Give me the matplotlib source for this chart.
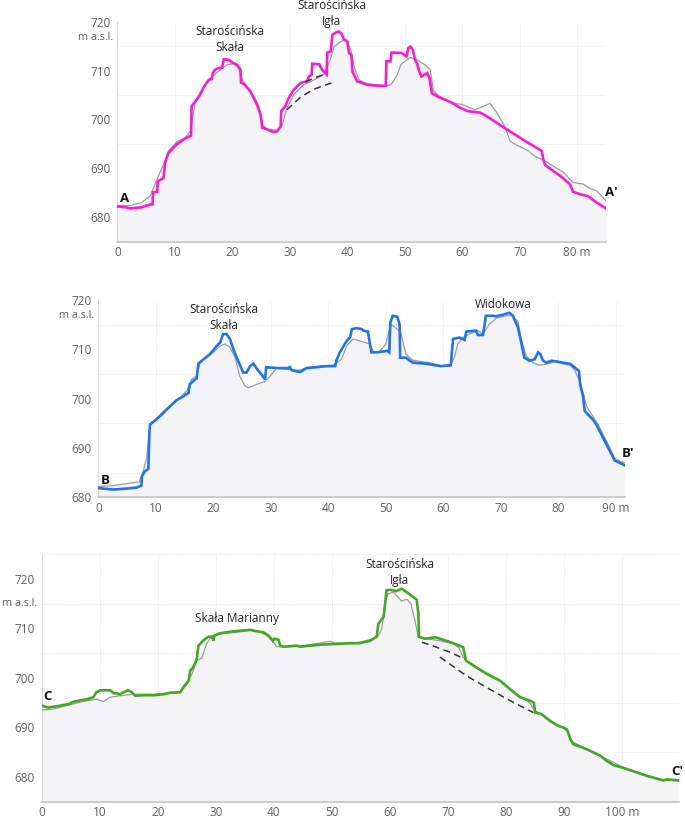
import matplotlib
matplotlib.use("Agg")
import matplotlib.pyplot as plt
import matplotlib.transforms as mtransforms
import numpy as np

plt.rcParams["font.family"] = ["Open Sans", "DejaVu Sans"]

# ---- profile A-A' (distance m, elevation m a.s.l.) ----
a_scan = [(0, 682.2), (1.6, 682.0), (2.2, 681.8), (4, 682.0), (5.7, 682.6), (6.1, 682.7), (6.2, 685.1),
          (6.9, 685.2), (7.0, 687.3), (8.0, 688.0), (8.3, 691.2), (8.9, 693.2), (10.3, 694.9), (11.5, 695.9),
          (12.8, 696.7), (12.9, 702.7), (13.8, 704.1), (14.4, 705.1), (15.0, 706.6), (15.9, 708.1),
          (16.4, 708.3), (16.6, 709.5), (17.0, 710.2), (17.6, 710.5), (18.2, 710.6), (18.5, 712.3),
          (19.4, 712.2), (19.9, 711.7), (20.8, 711.2), (21.4, 710.2), (21.5, 707.5), (22.0, 707.3),
          (23.1, 705.8), (24.3, 703.0), (24.9, 701.0), (25.2, 698.3), (26.0, 698.0), (27.2, 697.4),
          (27.8, 697.6), (28.4, 698.6), (28.5, 701.7), (29.2, 702.7), (29.8, 704.4), (30.7, 706.1),
          (31.9, 707.5), (33.0, 707.8), (33.3, 708.8), (33.8, 709.2), (33.9, 711.4), (35.1, 711.3),
          (35.6, 710.2), (36.4, 709.2), (36.5, 713.7), (37.1, 713.9), (37.4, 717.3), (38.0, 717.8),
          (38.5, 718.0), (38.95, 717.6), (39.4, 716.4), (40.0, 715.9), (40.3, 713.6), (40.7, 713.2),
          (40.9, 709.8), (41.7, 707.8), (43.5, 707.1), (45.2, 706.9), (46.7, 706.9), (46.8, 711.9),
          (47.5, 711.9), (47.7, 713.7), (49.4, 713.6), (50.3, 712.9), (50.6, 714.6), (51.0, 714.9),
          (51.4, 714.2), (51.8, 712.2), (52.2, 711.2), (52.5, 709.8), (52.9, 708.8), (53.5, 709.2),
          (53.9, 709.5), (54.3, 708.5), (54.7, 705.4), (55.8, 704.6), (57.3, 703.9), (58.4, 703.3),
          (59.6, 702.4), (61.0, 701.7), (63.1, 701.4), (64.2, 700.7), (67.7, 698.0), (71.2, 695.4),
          (73.8, 693.6), (74.1, 691.9), (74.4, 690.7), (75.8, 689.5), (77.0, 688.5), (78.7, 686.8),
          (79.3, 685.2), (80.5, 684.7), (81.9, 684.3), (83.4, 683.0), (85.0, 681.8)]
a_terrain = [(0, 682.4), (2.2, 682.4), (4.2, 683.0), (5.7, 684.4), (6.9, 687.8), (8.0, 690.8), (8.9, 693.6),
             (10.3, 695.4), (11.8, 696.3), (12.7, 697.6), (13.5, 703.4), (14.4, 705.4), (15.6, 707.8),
             (16.7, 709.0), (17.9, 710.2), (19.1, 711.2), (20.2, 711.4), (21.1, 710.5), (21.7, 708.1),
             (22.6, 706.6), (23.7, 704.7), (24.6, 702.7), (25.2, 699.0), (26.0, 698.0), (27.8, 697.8),
             (28.7, 699.0), (29.5, 702.4), (30.7, 705.1), (32.4, 707.1), (34.2, 708.1), (35.9, 709.2),
             (37.1, 712.5), (37.7, 714.9), (38.8, 715.9), (39.7, 716.4), (40.6, 714.2), (41.2, 710.8),
             (42.0, 708.1), (43.5, 707.3), (46.4, 706.9), (47.6, 707.1), (48.7, 709.2), (49.3, 711.2),
             (50.9, 712.7), (52.1, 712.2), (53.5, 711.2), (54.4, 710.2), (55.0, 705.8), (56.1, 704.7),
             (58.4, 703.3), (59.9, 703.1), (62.2, 702.0), (63.7, 702.7), (64.8, 703.3), (66.0, 701.4),
             (67.4, 698.6), (68.3, 695.6), (69.4, 694.8), (71.5, 693.6), (72.6, 692.5), (74.1, 691.7),
             (75.8, 690.5), (77.6, 689.2), (79.3, 687.1), (81.0, 686.8), (82.2, 685.9), (83.4, 685.4),
             (85.0, 683.4)]
a_dash_upper = [(32.7, 707.7), (34.5, 708.6), (36.4, 709.4)]
a_dash_lower = [(29.5, 702.0), (31.9, 704.6), (34.2, 706.2), (37.3, 707.5)]

# ---- profile B-B' ----
b_scan = [(0, 681.9), (2.6, 681.6), (4.9, 681.8), (6.7, 682.0), (7.5, 682.4), (7.6, 684.3), (8.1, 685.3),
          (8.7, 685.8), (8.9, 693.4), (9.0, 694.8), (10.1, 695.8), (11.3, 697.2), (12.5, 698.5),
          (13.6, 699.7), (14.8, 700.5), (15.7, 701.2), (15.9, 702.9), (16.8, 703.9), (17.1, 704.1),
          (17.4, 707.1), (18.3, 708.0), (19.4, 709.0), (20.6, 710.7), (21.2, 711.4), (21.7, 713.1),
          (22.3, 713.1), (22.9, 712.1), (23.5, 710.0), (24.3, 707.7), (25.2, 705.3), (25.8, 705.3),
          (26.4, 706.6), (27.0, 707.1), (27.5, 706.2), (28.1, 705.3), (28.6, 704.6), (29.0, 703.9),
          (29.2, 706.4), (29.9, 706.3), (31.6, 706.2), (33.0, 706.2), (33.3, 706.4), (33.6, 705.8),
          (35.1, 705.4), (36.2, 706.2), (38.0, 706.4), (39.7, 706.6), (41.2, 706.6), (41.4, 707.7),
          (42.0, 709.4), (43.2, 711.7), (43.8, 712.5), (44.1, 714.1), (44.9, 714.3), (45.8, 714.1),
          (46.1, 713.8), (46.9, 713.6), (47.2, 711.4), (47.5, 709.4), (48.5, 709.4), (50.3, 709.7),
          (50.6, 709.4), (50.8, 715.5), (51.2, 716.8), (52.0, 716.6), (52.4, 715.1), (52.5, 708.3),
          (53.5, 708.3), (54.7, 707.3), (57.0, 707.1), (59.6, 706.6), (61.3, 706.8), (61.7, 712.1),
          (62.8, 712.4), (63.7, 711.9), (64.0, 713.6), (65.7, 713.8), (66.0, 712.9), (66.9, 712.9),
          (67.2, 715.1), (67.4, 716.8), (68.6, 716.8), (69.2, 716.7), (70.3, 717.0), (71.5, 717.4),
          (72.1, 716.8), (73.0, 714.4), (73.5, 711.7), (74.1, 708.3), (75.0, 707.7), (75.9, 708.0),
          (76.5, 709.4), (76.9, 709.0), (77.3, 707.8), (77.9, 707.3), (78.8, 707.7), (79.9, 707.5),
          (80.8, 707.3), (82.0, 707.1), (82.6, 706.6), (83.6, 705.6), (83.8, 702.9), (84.3, 700.5),
          (84.6, 697.5), (86.0, 695.8), (86.6, 694.8), (88.4, 690.7), (89.8, 687.5), (90.7, 687.0),
          (91.6, 686.5)]
b_terrain = [(0, 682.2), (2.6, 682.4), (6.7, 683.1), (7.1, 683.1), (7.8, 685.3), (8.4, 688.0), (9.0, 694.8),
             (9.9, 695.5), (11.3, 696.8), (12.5, 698.5), (14.2, 700.2), (15.4, 701.6), (16.2, 703.9),
             (17.1, 704.6), (17.7, 707.3), (18.6, 708.3), (20.0, 709.4), (21.2, 710.7), (22.0, 711.1),
             (22.9, 710.4), (23.8, 708.3), (24.6, 704.6), (25.5, 702.6), (26.1, 702.2), (27.5, 702.9),
             (29.0, 703.5), (29.9, 704.6), (31.0, 706.2), (33.9, 705.8), (35.1, 705.8), (36.2, 706.3),
             (38.6, 706.6), (40.9, 706.8), (42.3, 708.0), (43.2, 710.7), (44.3, 712.1), (45.5, 711.7),
             (47.2, 711.1), (47.8, 709.6), (48.8, 709.4), (50.0, 711.1), (50.9, 715.1), (51.7, 714.4),
             (52.6, 713.4), (53.5, 709.0), (54.7, 707.8), (57.6, 707.3), (59.9, 706.6), (61.2, 706.6),
             (61.9, 708.3), (62.5, 711.0), (63.4, 712.4), (64.5, 713.1), (66.0, 713.8), (66.9, 713.1),
             (68.0, 715.1), (69.2, 716.3), (70.9, 716.8), (72.1, 716.8), (73.0, 715.5), (73.5, 712.4),
             (74.4, 708.7), (75.6, 707.3), (76.7, 706.8), (77.9, 707.0), (78.8, 707.3), (79.7, 707.7),
             (80.8, 707.1), (82.0, 706.8), (82.8, 705.9), (83.7, 703.6), (84.4, 700.9), (84.9, 698.5),
             (86.0, 696.5), (86.9, 694.8), (88.7, 690.7), (89.8, 688.0), (90.7, 687.3), (91.6, 687.0)]

# ---- profile C-C' ----
c_scan = [(0, 694.4), (1.1, 694.0), (3.2, 694.4), (4.6, 694.7), (5.5, 695.2), (7.8, 695.7), (8.9, 696.1),
          (9.4, 697.1), (10.1, 697.5), (11.8, 697.5), (12.4, 696.9), (12.9, 696.9), (13.5, 696.7),
          (14.1, 697.1), (14.9, 697.5), (15.5, 697.1), (16.1, 696.4), (17.5, 696.5), (19.3, 696.5),
          (21.0, 696.7), (22.1, 697.0), (23.9, 697.1), (24.4, 698.1), (25.3, 699.4), (25.6, 701.5),
          (26.1, 702.1), (26.7, 703.8), (27.0, 706.5), (27.8, 707.5), (28.7, 708.3), (29.3, 708.3),
          (29.6, 707.5), (29.7, 708.5), (30.7, 709.0), (33.0, 709.4), (35.9, 709.7), (37.1, 709.4),
          (38.2, 709.2), (39.1, 708.5), (39.8, 707.5), (40.1, 707.9), (40.8, 707.7), (41.1, 706.5),
          (41.7, 706.3), (44.0, 706.5), (44.5, 706.3), (48.0, 706.7), (53.2, 707.0), (54.8, 707.0),
          (56.6, 707.5), (57.7, 708.3), (58.0, 710.9), (58.9, 712.3), (59.1, 714.3), (59.4, 717.7),
          (60.0, 717.8), (61.1, 717.5), (62.0, 718.0), (62.9, 717.3), (63.7, 716.6), (64.6, 715.8),
          (64.9, 712.9), (65.0, 708.3), (66.0, 707.9), (67.8, 708.2), (69.2, 707.7), (70.9, 707.0),
          (72.6, 706.2), (73.1, 703.5), (74.9, 702.1), (76.7, 700.8), (79.0, 699.4), (80.7, 697.7),
          (82.4, 696.1), (84.1, 695.4), (84.8, 695.0), (85.0, 693.0), (86.1, 692.7), (87.6, 691.3),
          (89.0, 690.3), (89.9, 690.0), (90.5, 689.6), (91.1, 687.6), (91.6, 686.6), (93.9, 685.6),
          (96.2, 684.3), (97.4, 683.2), (98.5, 682.4), (100.8, 681.6), (104.3, 680.2), (107.1, 679.3),
          (107.7, 679.5), (109.8, 679.3)]
c_terrain = [(0, 693.5), (2.0, 693.7), (4.9, 694.6), (7.8, 695.4), (9.5, 695.7), (10.6, 695.2), (11.8, 696.1),
             (13.5, 696.4), (15.8, 696.7), (19.3, 696.7), (23.9, 697.1), (25.0, 698.8), (25.9, 700.8),
             (26.7, 703.5), (27.6, 704.0), (28.4, 706.9), (29.3, 708.5), (30.7, 708.9), (33.6, 709.2),
             (35.9, 709.6), (37.6, 709.4), (39.1, 708.3), (39.9, 707.2), (40.5, 706.3), (42.2, 706.3),
             (45.1, 706.5), (49.7, 707.4), (50.6, 707.0), (53.2, 707.0), (54.8, 707.2), (57.1, 707.9),
             (58.0, 708.5), (58.6, 709.9), (59.1, 715.0), (59.7, 717.0), (60.6, 717.3), (61.4, 716.3),
             (62.0, 715.5), (62.9, 715.9), (63.6, 715.0), (64.3, 711.6), (64.9, 708.2), (66.3, 707.9),
             (68.6, 707.5), (70.9, 706.9), (71.8, 706.2), (72.6, 704.2), (73.8, 702.8), (76.1, 701.1),
             (79.0, 699.4), (81.8, 696.7), (84.1, 695.0), (84.7, 693.7), (85.9, 692.7), (88.2, 691.0),
             (89.3, 690.3), (90.5, 689.3), (91.1, 687.3), (93.9, 685.6), (97.4, 683.6), (100.8, 681.6),
             (106.6, 679.5), (109.8, 679.2)]
c_dash_upper = [(65.5, 707.2), (68.0, 706.2), (70.3, 705.2), (72.9, 703.8)]
c_dash_lower = [(68.6, 704.2), (73.2, 700.4), (77.2, 697.7), (80.7, 695.4), (84.7, 693.0)]

GRAY_TXT = "#5f5f5f"


def draw_panel(rect, scan, terrain, color, xmax, ylim, xticks, peaks, ends, dashes, unit_y):
    ax = fig.add_axes(rect)
    t = np.array(terrain)
    s = np.array(scan)
    ax.fill_between(t[:, 0], t[:, 1], ylim[0], color="#f4f4f6", lw=0, zorder=1)
    ax.plot(t[:, 0], t[:, 1], color="#9b9b9b", lw=0.9, zorder=3)
    ax.plot(s[:, 0], s[:, 1], color=color, lw=1.9, zorder=4, solid_joinstyle="miter")
    for d in dashes:
        d = np.array(d)
        ax.plot(d[:, 0], d[:, 1], color="#333333", lw=1.1, ls=(0, (4.5, 3)), zorder=5)

    ax.set_xlim(0, xmax)
    ax.set_ylim(*ylim)
    ax.set_xticks(xticks)
    labels = [str(v) for v in xticks]
    labels[-1] = labels[-1] + " m"
    ax.set_xticklabels(labels)
    ax.set_yticks(range(680, 721, 10))
    ax.set_yticks(np.arange(ylim[0], ylim[1] + 0.1, 5), minor=True)
    ax.grid(True, which="minor", axis="y", color="#e9e9e9", lw=0.7, ls=(0, (1, 1)))
    ax.grid(True, which="major", axis="x", color="#e9e9e9", lw=0.7, ls=(0, (1, 1)))
    ax.set_axisbelow(True)
    ax.tick_params(which="both", length=0, labelsize=8.5, colors=GRAY_TXT)
    ax.tick_params(axis="x", pad=3)
    ax.tick_params(axis="y", pad=5)
    for sp in ["top", "right"]:
        ax.spines[sp].set_visible(False)
    ax.spines["left"].set_color("#d6d6d6")
    ax.spines["bottom"].set_color("#c4c4c4")
    ax.spines["bottom"].set_linewidth(1.2)

    offset = mtransforms.ScaledTranslation(-3 / 72, 0, fig.dpi_scale_trans)
    ax.text(0, unit_y, "m a.s.l.", transform=ax.get_yaxis_transform() + offset, ha="right", va="center",
            fontsize=7.8, color=GRAY_TXT)
    for x, y, txt in peaks:
        ax.text(x, y, txt, ha="center", va="center", fontsize=8.5, color="#222222",
                linespacing=1.3, clip_on=False, zorder=6)
    for x, y, txt, ha in ends:
        ax.text(x, y, txt, ha=ha, va="center", fontsize=9.5, fontweight="bold", color="#111111",
                clip_on=False, zorder=6)
    return ax


fig = plt.figure(figsize=(6.85, 8.19), dpi=100)

draw_panel([0.1715, 0.7049, 0.7131, 0.2686], a_scan, a_terrain, "#fb1bd2", 85, (675, 720),
           list(range(0, 81, 10)),
           [(19.6, 716.3, "Starościńska\nSkała"), (37.3, 721.7, "Starościńska\nIgła")],
           [(0.4, 683.8, "A", "left"), (87.0, 685.1, "A\u2032", "right")],
           [a_dash_upper, a_dash_lower], 716.8)

draw_panel([0.1435, 0.3926, 0.7689, 0.2411], b_scan, b_terrain, "#1f74ea", 91.6, (680, 720),
           list(range(0, 91, 10)),
           [(21.8, 716.4, "Starościńska\nSkała"), (70.5, 719.0, "Widokowa")],
           [(0.4, 683.5, "B", "left"), (93.2, 689.0, "B\u2032", "right")],
           [], 716.8)

draw_panel([0.0609, 0.0211, 0.9304, 0.3024], c_scan, c_terrain, "#45a524", 109.8, (675, 725),
           list(range(0, 101, 10)),
           [(33.6, 711.9, "Skała Marianny"), (61.7, 721.2, "Starościńska\nIgła")],
           [(0.3, 696.2, "C", "left"), (110.6, 681.0, "C\u2032", "right")],
           [c_dash_upper, c_dash_lower], 715.1)

fig.savefig("out.png", dpi=100, facecolor="white")
